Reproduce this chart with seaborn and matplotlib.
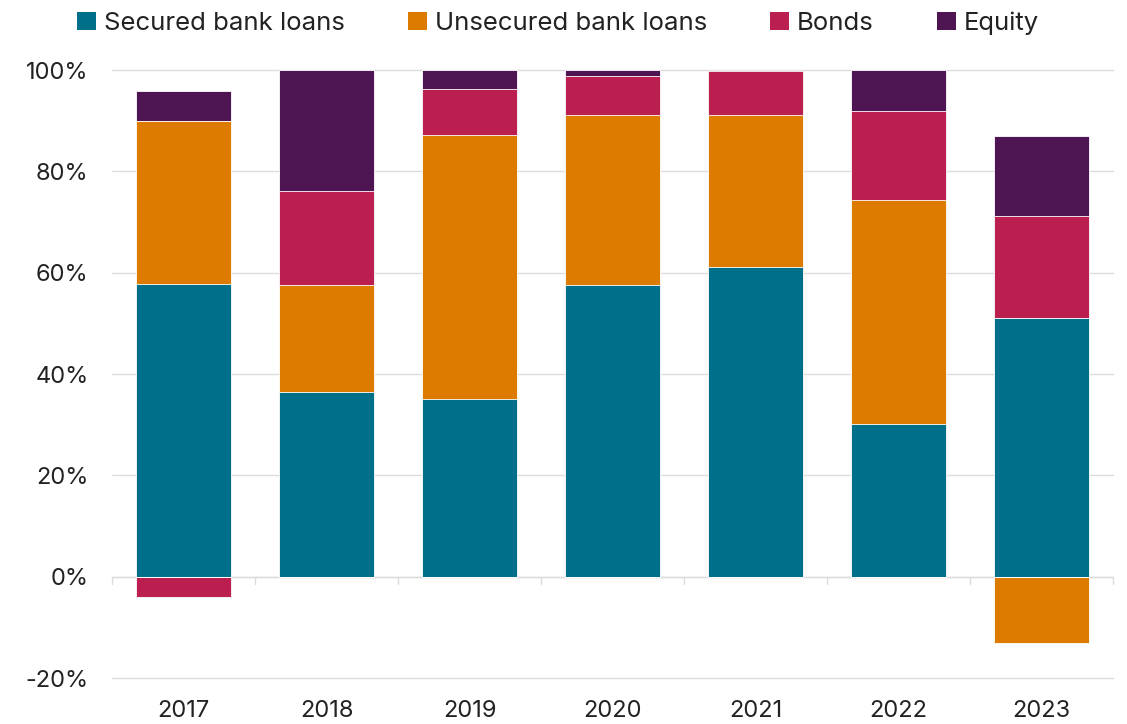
import numpy as np
import pandas as pd
import seaborn as sns
import matplotlib
matplotlib.use("Agg")
import matplotlib.pyplot as plt
from matplotlib.patches import Patch

years = ["2017", "2018", "2019", "2020", "2021", "2022", "2023"]
secured = [57.8, 36.5, 35.1, 57.6, 61.1, 30.2, 51.1]
unsecured = [32.2, 21.1, 52.1, 33.5, 30.0, 44.2, -13.0]
bonds = [-4.1, 18.5, 9.1, 7.7, 8.7, 17.5, 20.1]
equity = [5.9, 23.9, 3.7, 1.2, 0.2, 8.1, 15.8]

series_names = ["Secured bank loans", "Unsecured bank loans", "Bonds", "Equity"]
series_vals = [secured, unsecured, bonds, equity]
colors = ["#006F89", "#DD7A00", "#BA1F4F", "#4F1552"]

sns.set_theme(style="white")
plt.rcParams["font.family"] = ["Inter", "DejaVu Sans"]

fig = plt.figure(figsize=(11.27, 7.24), dpi=100)
ax = fig.add_axes([0.0994, 0.0635, 0.8882, 0.8398])

vals = np.array(series_vals, dtype=float)
pos = np.where(vals > 0, vals, 0).cumsum(axis=0)
neg = np.where(vals < 0, vals, 0).cumsum(axis=0)

# Overlay cumulative bars: draw outermost first
for i in range(len(series_names) - 1, -1, -1):
    for cum in (pos[i], neg[i]):
        df = pd.DataFrame({"year": years, "v": cum})
        sns.barplot(data=df, x="year", y="v", color=colors[i], saturation=1,
                    width=0.665, edgecolor="#ffffff", linewidth=0.6, ax=ax,
                    zorder=3)

ax.set_ylim(-20, 100)
ax.set_xlim(-0.5, len(years) - 0.5)
ax.set_yticks([-20, 0, 20, 40, 60, 80, 100])
ax.set_yticklabels([f"{t}%" for t in [-20, 0, 20, 40, 60, 80, 100]])
ax.grid(axis="y", color="#DCDCDC", linewidth=1, zorder=0)
for gl in ax.get_ygridlines():
    gl.set_clip_on(False)
ax.set_axisbelow(True)
for s in ax.spines.values():
    s.set_visible(False)
ax.axhline(0, color="#DCDCDC", linewidth=1, zorder=1)
ax.tick_params(axis="x", which="major", length=0, pad=16, labelsize=17,
               labelcolor="#222222")
ax.tick_params(axis="y", length=0, pad=17, labelsize=17, labelcolor="#222222")
ax.set_xlabel("")
ax.set_ylabel("")

for xb in np.arange(-0.5, len(years), 1.0):
    ax.plot([xb, xb], [0, -1.4], color="#DCDCDC", linewidth=1, zorder=1,
            clip_on=False)

handles = [Patch(facecolor=c, edgecolor="none") for c in colors]
fig.legend(handles, series_names, loc="upper center", ncol=4,
           bbox_to_anchor=(0.495, 1.016), frameon=False, fontsize=18.5,
           handlelength=0.75, handleheight=0.75, handletextpad=0.3,
           columnspacing=2.45, labelcolor="#222222")

fig.savefig("out.png", dpi=100)
